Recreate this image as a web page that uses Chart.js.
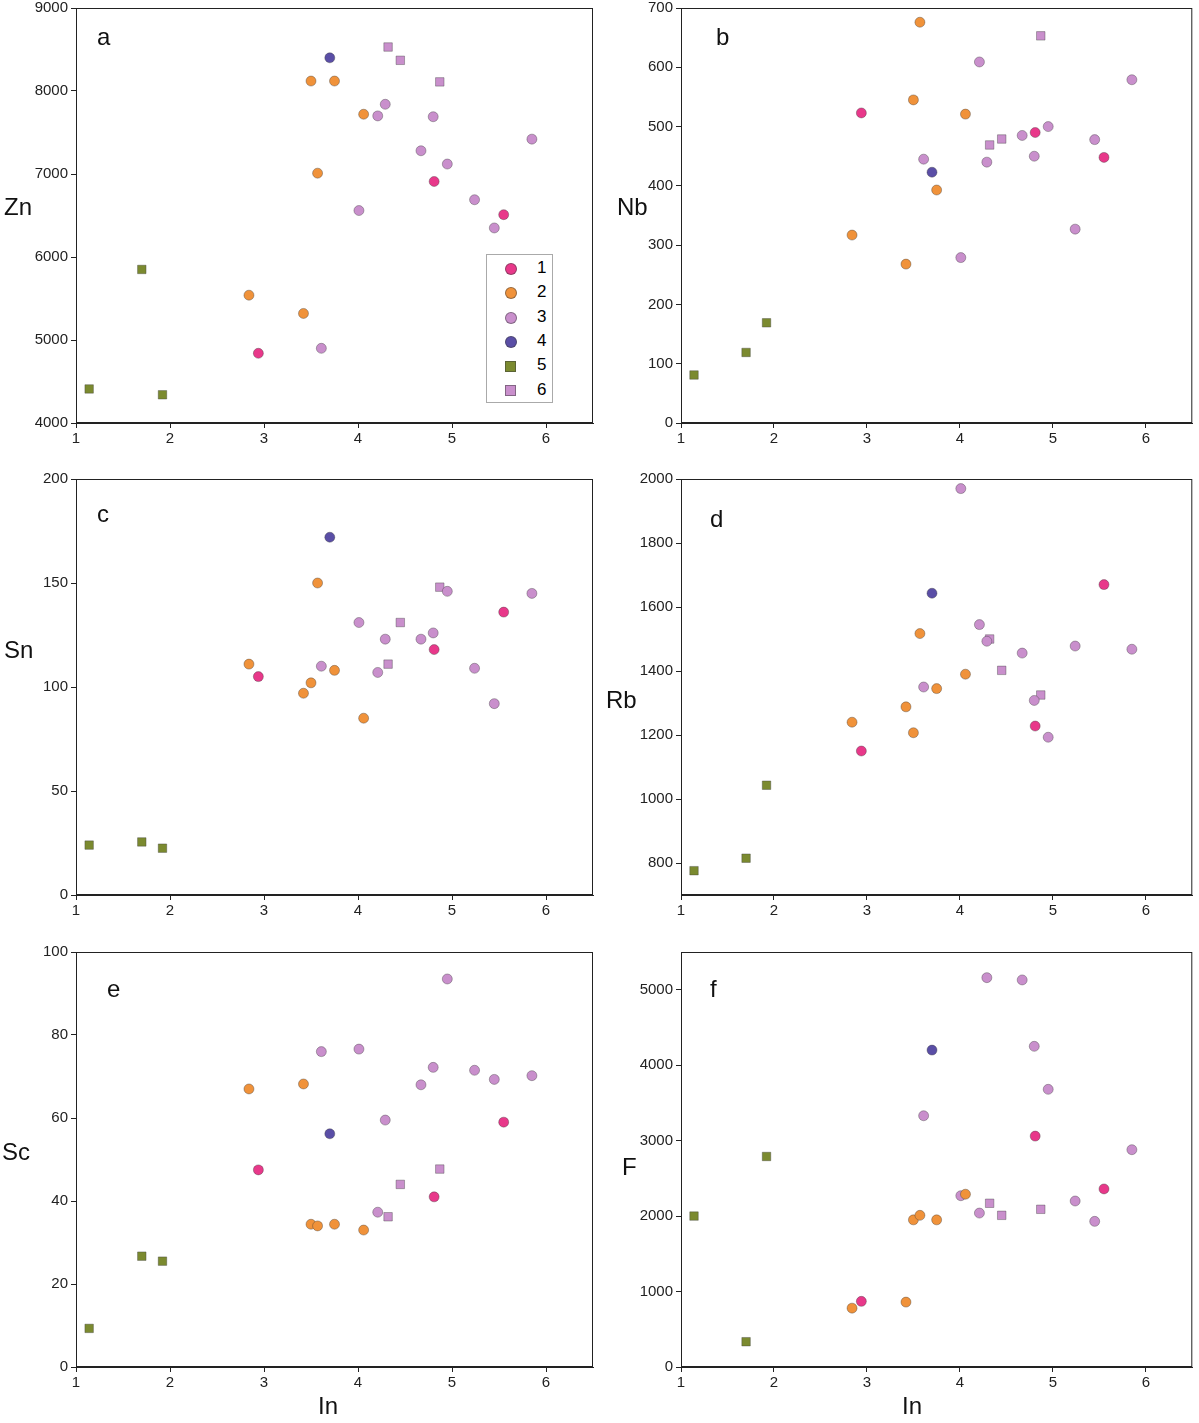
<!DOCTYPE html><html><head><meta charset="utf-8">
<script src="https://cdn.jsdelivr.net/npm/chart.js@4"></script>
<style>body{margin:0;background:#fff;width:1199px;height:1423px;position:relative;font-family:Arial,"Liberation Sans",sans-serif;overflow:hidden}
.c{position:absolute}.t{position:absolute;color:#111}
</style></head><body>
<script>
const inG1=[2.94,4.81,5.55];
const inG2=[2.84,3.42,3.50,3.57,3.75,4.06];
const inG3=[3.61,4.01,4.21,4.29,4.67,4.80,4.95,5.24,5.45,5.85];
const inG4=[3.70];
const inG5=[1.14,1.70,1.92];
const inG6=[4.32,4.45,4.87];
const xTicks=[1,2,3,4,5,6];
const Zn={g1:[4840,6910,6510],g2:[5540,5320,8120,7010,8120,7720],g3:[4900,6560,7700,7840,7280,7690,7120,6690,6350,7420],g4:[8400],g5:[4410,5850,4340],g6:[8530,8370,8110]};
const Nb={g1:[523,490,448],g2:[317,268,545,676,393,521],g3:[445,279,609,440,485,450,500,327,478,579],g4:[423],g5:[81,119,169],g6:[469,479,653]};
const Sn={g1:[105,118,136],g2:[111,97,102,150,108,85],g3:[110,131,107,123,123,126,146,109,92,145],g4:[172],g5:[24,25.5,22.5],g6:[111,131,148]};
const Rb={g1:[1150,1228,1670],g2:[1240,1288,1207,1517,1345,1390],g3:[1350,1970,1545,1493,1456,1308,1193,1478,null,1468],g4:[1643],g5:[776,815,1043],g6:[1500,1402,1325]};
const Sc={g1:[47.5,41,59],g2:[67,68.2,34.4,34,34.4,33],g3:[76,76.6,37.3,59.5,68,72.2,93.5,71.5,69.3,70.2],g4:[56.2],g5:[9.3,26.7,25.5],g6:[36.2,44,47.7]};
const F={g1:[870,3060,2360],g2:[780,860,1950,2010,1950,2290],g3:[3330,2270,2040,5160,5130,4250,3680,2200,1930,2880],g4:[4200],g5:[2000,335,2790],g6:[2170,2010,2090]};
const groups=[
 {k:'g1',x:inG1,c:'#e8388a',s:'circle',l:'1'},
 {k:'g2',x:inG2,c:'#f0923a',s:'circle',l:'2'},
 {k:'g3',x:inG3,c:'#c98fcc',s:'circle',l:'3'},
 {k:'g4',x:inG4,c:'#5a4ea6',s:'circle',l:'4'},
 {k:'g5',x:inG5,c:'#7b8a2f',s:'rect',l:'5'},
 {k:'g6',x:inG6,c:'#c98fcc',s:'rect',l:'6'}];
const panels=[
 {d:Zn,name:'Zn',letter:'a',min:4000,max:9000,step:1000,left:0,top:-4,w:600,h:474,yw:76,xh:47,pr:7,lx:4,ly:193,ax:97,ay:23},
 {d:Nb,name:'Nb',letter:'b',min:0,max:700,step:100,left:600,top:-4,w:599,h:474,yw:81,xh:47,pr:2,lx:617,ly:193,ax:716,ay:23},
 {d:Sn,name:'Sn',letter:'c',min:0,max:200,step:50,left:0,top:467,w:600,h:475,yw:76,xh:47,pr:7,lx:4,ly:636,ax:97,ay:500},
 {d:Rb,name:'Rb',letter:'d',min:700,max:2000,step:200,left:600,top:467,w:599,h:475,yw:81,xh:47,pr:2,lx:606,ly:686,ax:710,ay:505},
 {d:Sc,name:'Sc',letter:'e',min:0,max:100,step:20,left:0,top:940,w:600,h:483,yw:76,xh:56,pr:7,lx:2,ly:1138,ax:107,ay:975,xl:true,xlx:318},
 {d:F,name:'F',letter:'f',min:0,max:5500,step:1000,left:600,top:940,w:599,h:483,yw:81,xh:56,pr:2,lx:622,ly:1153,ax:710,ay:975,xl:true,xlx:902}];
const frame={id:'frame',afterDraw(ch){const a=ch.chartArea,c=ch.ctx;c.save();c.strokeStyle='#222';c.lineWidth=1;c.strokeRect(a.left+0.5,a.top+0.5,a.right-a.left-1,a.bottom-a.top-1);c.restore();}};
panels.forEach(p=>{
 const cv=document.createElement('canvas');const div=document.createElement('div');div.className='c';
 div.style.cssText=`left:${p.left}px;top:${p.top}px;width:${p.w}px;height:${p.h}px`;div.appendChild(cv);document.body.appendChild(div);
 const mk=(txt,x,y,fs)=>{const t=document.createElement('div');t.className='t';t.textContent=txt;t.style.cssText=`left:${x}px;top:${y}px;font-size:${fs}px`;document.body.appendChild(t);};
 mk(p.name,p.lx,p.ly,24);mk(p.letter,p.ax,p.ay,24);
 if(p.xl)mk('In',p.xlx,1392,24);
 new Chart(cv,{type:'scatter',data:{datasets:groups.map(g=>({label:g.l,data:g.x.map((x,i)=>({x,y:p.d[g.k][i]})).filter(o=>o.y!=null),
  pointStyle:g.s,backgroundColor:g.c,borderColor:'rgba(60,60,60,0.55)',borderWidth:0.7,pointRadius:g.s==='rect'?6:5}))},
  options:{responsive:true,maintainAspectRatio:false,animation:false,layout:{padding:{top:0,right:p.pr,left:0,bottom:0}},
   plugins:{legend:{display:false},tooltip:{enabled:false}},
   scales:{x:{type:'linear',min:1,max:6.5,afterBuildTicks(s){s.ticks=xTicks.map(v=>({value:v}));},afterFit(s){s.height=p.xh;},
     grid:{drawOnChartArea:false,tickLength:5,color:'#222'},border:{color:'#222'},ticks:{color:'#222',font:{size:15,family:'Arial'},padding:2}},
    y:{min:p.min,max:p.max,ticks:{stepSize:p.step,color:'#222',font:{size:15,family:'Arial'},padding:3,callback:v=>String(v)},afterFit(s){s.width=p.yw;},
     afterBuildTicks(s){const t=[];for(let v=Math.ceil(p.min/p.step)*p.step;v<=p.max;v+=p.step)t.push({value:v});s.ticks=t;},
     grid:{drawOnChartArea:false,tickLength:5,color:'#222'},border:{color:'#222'}}}},plugins:[frame]});
});
const lg=document.createElement('div');lg.style.cssText='position:absolute;left:486px;top:254px;width:65px;height:147px;border:1px solid #aaa;background:#fff;font-size:17px';
groups.forEach((g,i)=>{const r=document.createElement('div');r.style.cssText=`position:absolute;left:18px;top:${3+i*24.3}px;height:20px;line-height:20px`;
 const m=document.createElement('span');const sz=g.s==='rect'?9:10;m.style.cssText=`position:absolute;left:0;top:${10-sz/2}px;width:${sz}px;height:${sz}px;background:${g.c};border:0.5px solid rgba(60,60,60,.5);border-radius:${g.s==='rect'?0:50}%`;
 const t=document.createElement('span');t.textContent=g.l;t.style.cssText='position:absolute;left:32px;top:0';r.appendChild(m);r.appendChild(t);lg.appendChild(r);});
document.body.appendChild(lg);
</script></body></html>
